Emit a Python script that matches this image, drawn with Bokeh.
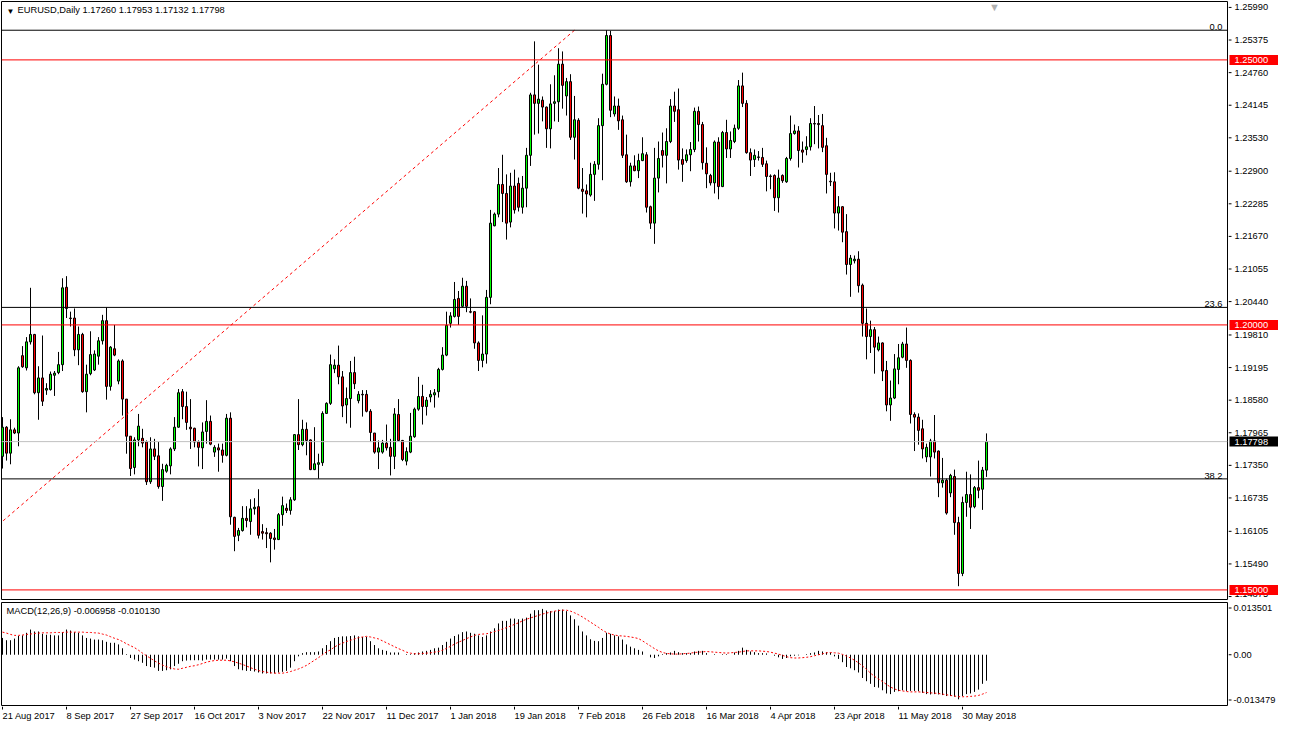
from bokeh.plotting import figure
from bokeh.models import Range1d, Span, Label, ColumnDataSource
from bokeh.layouts import column, row
from bokeh.embed import file_html
from bokeh.resources import INLINE
from bokeh.core.properties import value

# ---------------------------------------------------------------- data
symbol = "EURUSD,Daily"

open_ = [
    1.1752, 1.1807, 1.1758, 1.1802, 1.1796, 1.1942, 1.1919, 1.1968, 1.1982, 1.1872,
    1.1900, 1.1877, 1.1878, 1.1905, 1.1910, 1.1925, 1.2071, 1.2013, 1.2013, 1.1953,
    1.1982, 1.1874, 1.1908, 1.1915, 1.1941, 1.1970, 1.2008, 1.1884, 1.1955, 1.1894,
    1.1932, 1.1860, 1.1790, 1.1731, 1.1783, 1.1786, 1.1779, 1.1704, 1.1766, 1.1753,
    1.1695, 1.1724, 1.1734, 1.1766, 1.1807, 1.1874, 1.1846, 1.1807, 1.1805, 1.1779,
    1.1768, 1.1799, 1.1818, 1.1760, 1.1768, 1.1764, 1.1754, 1.1824, 1.1637, 1.1603,
    1.1612, 1.1635, 1.1629, 1.1653, 1.1657, 1.1610, 1.1608, 1.1607, 1.1598, 1.1595,
    1.1642, 1.1654, 1.1650, 1.1670, 1.1793, 1.1774, 1.1803, 1.1783, 1.1727, 1.1737,
    1.1740, 1.1833, 1.1852, 1.1917, 1.1924, 1.1902, 1.1849, 1.1861, 1.1910, 1.1857,
    1.1869, 1.1869, 1.1837, 1.1796, 1.1760, 1.1760, 1.1777, 1.1769, 1.1752, 1.1831,
    1.1782, 1.1743, 1.1760, 1.1789, 1.1841, 1.1865, 1.1846, 1.1864, 1.1868, 1.1874,
    1.1916, 1.1943, 1.2003, 1.2016, 1.2050, 1.2035, 1.2073, 1.2025, 1.2025, 1.1966,
    1.1933, 1.1945, 1.2052, 1.2187, 1.2209, 1.2265, 1.2248, 1.2194, 1.2262, 1.2267,
    1.2222, 1.2258, 1.2320, 1.2434, 1.2418, 1.2424, 1.2411, 1.2370, 1.2418, 1.2421,
    1.2492, 1.2432, 1.2459, 1.2354, 1.2386, 1.2256, 1.2253, 1.2245, 1.2284, 1.2303,
    1.2376, 1.2454, 1.2546, 1.2398, 1.2413, 1.2387, 1.2321, 1.2270, 1.2300, 1.2291,
    1.2310, 1.2321, 1.2223, 1.2192, 1.2277, 1.2329, 1.2320, 1.2346, 1.2413, 1.2406,
    1.2312, 1.2310, 1.2321, 1.2331, 1.2403, 1.2378, 1.2305, 1.2282, 1.2268, 1.2345,
    1.2261, 1.2363, 1.2332, 1.2346, 1.2371, 1.2451, 1.2418, 1.2325, 1.2312, 1.2317,
    1.2316, 1.2304, 1.2281, 1.2282, 1.2240, 1.2282, 1.2270, 1.2314, 1.2361, 1.2366,
    1.2330, 1.2331, 1.2336, 1.2380, 1.2380, 1.2376, 1.2338, 1.2271, 1.2270, 1.2211,
    1.2223, 1.2176, 1.2114, 1.2121, 1.2124, 1.2075, 1.2003, 1.1978, 1.1991, 1.1953,
    1.1966, 1.1914, 1.1849, 1.1862, 1.1916, 1.1939, 1.1964, 1.1933, 1.1831, 1.1826,
    1.1804, 1.1751, 1.1751, 1.1781, 1.1762, 1.1702, 1.1707, 1.1683, 1.1714, 1.1627,
    1.1531, 1.1665, 1.1680, 1.1657, 1.1693, 1.1690, 1.17260,
]
high_ = [
    1.1826, 1.1809, 1.1822, 1.1806, 1.1922, 1.1960, 1.1977, 1.2070, 1.1983, 1.1922,
    1.1980, 1.1890, 1.1912, 1.1913, 1.1949, 1.2088, 1.2092, 1.2025, 1.2031, 1.1997,
    1.1985, 1.1925, 1.1988, 1.1952, 1.1977, 1.2019, 1.2033, 1.1960, 1.2000, 1.1935,
    1.1935, 1.1860, 1.1790, 1.1788, 1.1832, 1.1804, 1.1782, 1.1788, 1.1785, 1.1779,
    1.1738, 1.1738, 1.1769, 1.1826, 1.1879, 1.1879, 1.1874, 1.1860, 1.1806, 1.1782,
    1.1816, 1.1858, 1.1829, 1.1773, 1.1776, 1.1776, 1.1832, 1.1835, 1.1638, 1.1617,
    1.1658, 1.1658, 1.1671, 1.1673, 1.1690, 1.1624, 1.1617, 1.1609, 1.1615, 1.1645,
    1.1676, 1.1663, 1.1675, 1.1794, 1.1860, 1.1821, 1.1816, 1.1784, 1.1807, 1.1757,
    1.1837, 1.1854, 1.1944, 1.1935, 1.1961, 1.1913, 1.1882, 1.1932, 1.1940, 1.1875,
    1.1877, 1.1877, 1.1841, 1.1796, 1.1782, 1.1783, 1.1812, 1.1785, 1.1843, 1.1860,
    1.1783, 1.1769, 1.1834, 1.1844, 1.1902, 1.1887, 1.1864, 1.1877, 1.1879, 1.1919,
    1.1958, 1.2025, 1.2024, 1.2081, 1.2064, 1.2089, 1.2083, 1.2050, 1.2026, 1.1969,
    1.2018, 1.2066, 1.2217, 1.2212, 1.2296, 1.2321, 1.2284, 1.2287, 1.2293, 1.2278,
    1.2281, 1.2334, 1.2438, 1.2535, 1.2491, 1.2431, 1.2412, 1.2454, 1.2471, 1.2522,
    1.2516, 1.2466, 1.2473, 1.2432, 1.2390, 1.2296, 1.2265, 1.2306, 1.2309, 1.2390,
    1.2474, 1.2556, 1.2555, 1.2431, 1.2427, 1.2395, 1.2359, 1.2306, 1.2320, 1.2323,
    1.2354, 1.2326, 1.2225, 1.2334, 1.2346, 1.2363, 1.2371, 1.2426, 1.2440, 1.2446,
    1.2333, 1.2331, 1.2345, 1.2410, 1.2412, 1.2383, 1.2335, 1.2285, 1.2348, 1.2354,
    1.2366, 1.2387, 1.2365, 1.2378, 1.2462, 1.2476, 1.2424, 1.2333, 1.2331, 1.2328,
    1.2334, 1.2310, 1.2284, 1.2284, 1.2293, 1.2284, 1.2317, 1.2395, 1.2378, 1.2375,
    1.2346, 1.2356, 1.2390, 1.2413, 1.2396, 1.2398, 1.2353, 1.2287, 1.2288, 1.2243,
    1.2224, 1.2209, 1.2132, 1.2131, 1.2139, 1.2078, 1.2031, 1.2008, 1.1996, 1.1978,
    1.1967, 1.1932, 1.1895, 1.1945, 1.1964, 1.1968, 1.1995, 1.1935, 1.1835, 1.1833,
    1.1821, 1.1776, 1.1785, 1.1830, 1.1763, 1.1749, 1.1710, 1.1719, 1.1727, 1.1638,
    1.1676, 1.1723, 1.1718, 1.1696, 1.1744, 1.1732, 1.17953,
]
low_ = [
    1.1729, 1.1744, 1.1737, 1.1794, 1.1771, 1.1919, 1.1914, 1.1963, 1.1869, 1.1821,
    1.1847, 1.1868, 1.1876, 1.1866, 1.1907, 1.1913, 1.2013, 1.1997, 1.1941, 1.1924,
    1.1872, 1.1835, 1.1905, 1.1913, 1.1925, 1.1963, 1.1859, 1.1876, 1.1941, 1.1888,
    1.1829, 1.1757, 1.1715, 1.1718, 1.1771, 1.1769, 1.1698, 1.1700, 1.1745, 1.1691,
    1.1668, 1.1721, 1.1718, 1.1762, 1.1806, 1.1822, 1.1802, 1.1766, 1.1769, 1.1733,
    1.1728, 1.1776, 1.1773, 1.1751, 1.1723, 1.1740, 1.1752, 1.1623, 1.1573, 1.1592,
    1.1610, 1.1618, 1.1604, 1.1642, 1.1597, 1.1595, 1.1579, 1.1552, 1.1576, 1.1594,
    1.1621, 1.1645, 1.1642, 1.1668, 1.1764, 1.1771, 1.1754, 1.1726, 1.1726, 1.1710,
    1.1734, 1.1832, 1.1849, 1.1909, 1.1888, 1.1826, 1.1814, 1.1806, 1.1879, 1.1852,
    1.1827, 1.1835, 1.1779, 1.1757, 1.1728, 1.1757, 1.1763, 1.1716, 1.1728, 1.1781,
    1.1743, 1.1735, 1.1758, 1.1787, 1.1838, 1.1812, 1.1829, 1.1854, 1.1844, 1.1863,
    1.1914, 1.1941, 1.1995, 1.2014, 1.2000, 1.2033, 1.2024, 1.2022, 1.1955, 1.1913,
    1.1920, 1.1927, 1.2039, 1.2186, 1.2203, 1.2194, 1.2161, 1.2184, 1.2210, 1.2214,
    1.2210, 1.2222, 1.2300, 1.2359, 1.2361, 1.2384, 1.2334, 1.2333, 1.2384, 1.2383,
    1.2408, 1.2395, 1.2349, 1.2312, 1.2256, 1.2210, 1.2203, 1.2242, 1.2234, 1.2293,
    1.2273, 1.2452, 1.2392, 1.2393, 1.2368, 1.2315, 1.2268, 1.2261, 1.2290, 1.2277,
    1.2309, 1.2212, 1.2181, 1.2153, 1.2250, 1.2297, 1.2267, 1.2343, 1.2383, 1.2293,
    1.2270, 1.2306, 1.2290, 1.2326, 1.2346, 1.2293, 1.2258, 1.2263, 1.2248, 1.2237,
    1.2260, 1.2315, 1.2315, 1.2343, 1.2368, 1.2411, 1.2323, 1.2281, 1.2298, 1.2310,
    1.2298, 1.2252, 1.2256, 1.2215, 1.2212, 1.2268, 1.2268, 1.2310, 1.2359, 1.2297,
    1.2306, 1.2320, 1.2329, 1.2341, 1.2333, 1.2326, 1.2248, 1.2262, 1.2182, 1.2178,
    1.2156, 1.2095, 1.2053, 1.2116, 1.2061, 1.1978, 1.1935, 1.1947, 1.1908, 1.1950,
    1.1894, 1.1837, 1.1819, 1.1860, 1.1888, 1.1937, 1.1919, 1.1814, 1.1762, 1.1774,
    1.1748, 1.1741, 1.1714, 1.1748, 1.1675, 1.1693, 1.1642, 1.1675, 1.1604, 1.1507,
    1.1526, 1.1638, 1.1615, 1.1654, 1.1673, 1.1651, 1.17132,
]
close_ = [
    1.1807, 1.1758, 1.1802, 1.1796, 1.1919, 1.1921, 1.1968, 1.1982, 1.1872, 1.1900,
    1.1856, 1.1880, 1.1907, 1.1909, 1.1925, 1.2070, 1.2031, 1.2012, 1.1953, 1.1982,
    1.1874, 1.1907, 1.1944, 1.1945, 1.1970, 1.2008, 1.1884, 1.1958, 1.1943, 1.1932,
    1.1860, 1.1790, 1.1729, 1.1783, 1.1809, 1.1777, 1.1704, 1.1766, 1.1752, 1.1695,
    1.1727, 1.1735, 1.1766, 1.1807, 1.1872, 1.1846, 1.1816, 1.1804, 1.1779, 1.1769,
    1.1798, 1.1818, 1.1775, 1.1769, 1.1764, 1.1754, 1.1824, 1.1638, 1.1601, 1.1612,
    1.1635, 1.1631, 1.1653, 1.1656, 1.1603, 1.1607, 1.1606, 1.1597, 1.1595, 1.1642,
    1.1659, 1.1650, 1.1670, 1.1793, 1.1774, 1.1803, 1.1782, 1.1727, 1.1738, 1.1740,
    1.1833, 1.1852, 1.1925, 1.1924, 1.1902, 1.1847, 1.1861, 1.1910, 1.1889, 1.1869,
    1.1868, 1.1837, 1.1797, 1.1760, 1.1768, 1.1777, 1.1768, 1.1752, 1.1832, 1.1782,
    1.1746, 1.1761, 1.1790, 1.1841, 1.1865, 1.1846, 1.1858, 1.1869, 1.1872, 1.1916,
    1.1943, 1.1999, 1.2017, 1.2048, 1.2016, 1.2073, 1.2035, 1.2024, 1.1966, 1.1933,
    1.1945, 1.2052, 1.2192, 1.2209, 1.2265, 1.2248, 1.2192, 1.2262, 1.2217, 1.2222,
    1.2258, 1.2320, 1.2434, 1.2418, 1.2426, 1.2411, 1.2370, 1.2417, 1.2421, 1.2492,
    1.2452, 1.2459, 1.2354, 1.2387, 1.2258, 1.2252, 1.2247, 1.2284, 1.2303, 1.2376,
    1.2454, 1.2546, 1.2405, 1.2413, 1.2385, 1.2320, 1.2270, 1.2300, 1.2291, 1.2310,
    1.2323, 1.2222, 1.2192, 1.2277, 1.2314, 1.2320, 1.2346, 1.2413, 1.2403, 1.2311,
    1.2303, 1.2321, 1.2331, 1.2403, 1.2378, 1.2306, 1.2285, 1.2268, 1.2345, 1.2261,
    1.2363, 1.2332, 1.2348, 1.2371, 1.2451, 1.2418, 1.2325, 1.2311, 1.2320, 1.2316,
    1.2303, 1.2280, 1.2280, 1.2240, 1.2277, 1.2272, 1.2314, 1.2361, 1.2366, 1.2329,
    1.2326, 1.2336, 1.2380, 1.2379, 1.2378, 1.2335, 1.2284, 1.2270, 1.2211, 1.2223,
    1.2175, 1.2114, 1.2126, 1.2124, 1.2074, 1.2003, 1.1978, 1.1991, 1.1958, 1.1966,
    1.1913, 1.1849, 1.1862, 1.1917, 1.1938, 1.1964, 1.1933, 1.1831, 1.1826, 1.1801,
    1.1766, 1.1769, 1.1781, 1.1760, 1.1702, 1.1707, 1.1645, 1.1716, 1.1627, 1.1531,
    1.1665, 1.1680, 1.1656, 1.1693, 1.1688, 1.1726, 1.17798,
]

macd_main = [
    0.00450, 0.00389, 0.00389, 0.00433, 0.00502, 0.00519, 0.00588, 0.00675, 0.00623, 0.00623,
    0.00562, 0.00536, 0.00536, 0.00519, 0.00519, 0.00606, 0.00675, 0.00649, 0.00606, 0.00588,
    0.00519, 0.00450, 0.00433, 0.00407, 0.00407, 0.00389, 0.00346, 0.00320, 0.00320, 0.00277,
    0.00173, 0.00017, -0.00087, -0.00130, -0.00173, -0.00216, -0.00303, -0.00329, -0.00346, -0.00433,
    -0.00433, -0.00415, -0.00389, -0.00303, -0.00242, -0.00173, -0.00156, -0.00147, -0.00147, -0.00147,
    -0.00156, -0.00130, -0.00130, -0.00130, -0.00130, -0.00130, -0.00104, -0.00173, -0.00303, -0.00389,
    -0.00415, -0.00433, -0.00433, -0.00450, -0.00476, -0.00502, -0.00502, -0.00502, -0.00502, -0.00476,
    -0.00458, -0.00433, -0.00346, -0.00173, -0.00043, 0.00043, 0.00069, 0.00069, 0.00069, 0.00087,
    0.00173, 0.00260, 0.00363, 0.00450, 0.00476, 0.00493, 0.00493, 0.00502, 0.00519, 0.00493,
    0.00476, 0.00476, 0.00363, 0.00260, 0.00173, 0.00130, 0.00104, 0.00061, 0.00061, 0.00061,
    0.00000, 0.00017, 0.00017, 0.00043, 0.00061, 0.00087, 0.00104, 0.00130, 0.00173, 0.00190,
    0.00260, 0.00346, 0.00433, 0.00502, 0.00545, 0.00606, 0.00623, 0.00588, 0.00562, 0.00519,
    0.00476, 0.00519, 0.00623, 0.00709, 0.00839, 0.00908, 0.00908, 0.00969, 0.00969, 0.00952,
    0.00969, 0.00995, 0.01099, 0.01194, 0.01194, 0.01228, 0.01185, 0.01168, 0.01168, 0.01211,
    0.01211, 0.01168, 0.01055, 0.00952, 0.00779, 0.00623, 0.00519, 0.00415, 0.00372, 0.00363,
    0.00450, 0.00588, 0.00562, 0.00519, 0.00493, 0.00407, 0.00277, 0.00216, 0.00173, 0.00130,
    0.00087, 0.00000, -0.00069, -0.00087, -0.00043, 0.00017, 0.00043, 0.00061, 0.00104, 0.00069,
    0.00043, 0.00043, 0.00043, 0.00087, 0.00104, 0.00104, 0.00043, 0.00000, 0.00017, 0.00000,
    0.00017, 0.00017, 0.00000, 0.00061, 0.00104, 0.00190, 0.00130, 0.00087, 0.00069, 0.00043,
    0.00043, 0.00035, 0.00000, -0.00026, -0.00069, -0.00112, -0.00087, -0.00043, -0.00026, -0.00017,
    0.00000, 0.00017, 0.00043, 0.00061, 0.00104, 0.00087, 0.00069, 0.00061, -0.00043, -0.00112,
    -0.00199, -0.00329, -0.00363, -0.00415, -0.00476, -0.00623, -0.00709, -0.00779, -0.00865, -0.00882,
    -0.00952, -0.01038, -0.01055, -0.00995, -0.00977, -0.00952, -0.00969, -0.00969, -0.00969, -0.00977,
    -0.01021, -0.01055, -0.01064, -0.01055, -0.01064, -0.01081, -0.01107, -0.01107, -0.01125, -0.01194,
    -0.01107, -0.01055, -0.01038, -0.00995, -0.00934, -0.00779, -0.006958,
]
macd_signal = [
    0.00606, 0.00580, 0.00545, 0.00519, 0.00519, 0.00528, 0.00545, 0.00554, 0.00571, 0.00580,
    0.00588, 0.00588, 0.00588, 0.00597, 0.00597, 0.00597, 0.00606, 0.00606, 0.00606, 0.00606,
    0.00606, 0.00597, 0.00597, 0.00588, 0.00580, 0.00554, 0.00528, 0.00484, 0.00441, 0.00407,
    0.00355, 0.00294, 0.00242, 0.00190, 0.00121, 0.00043, -0.00026, -0.00095, -0.00164, -0.00225,
    -0.00277, -0.00320, -0.00355, -0.00381, -0.00389, -0.00363, -0.00337, -0.00311, -0.00294, -0.00268,
    -0.00234, -0.00199, -0.00173, -0.00156, -0.00147, -0.00147, -0.00147, -0.00164, -0.00190, -0.00225,
    -0.00260, -0.00303, -0.00346, -0.00389, -0.00424, -0.00450, -0.00467, -0.00484, -0.00493, -0.00493,
    -0.00493, -0.00476, -0.00450, -0.00415, -0.00381, -0.00337, -0.00285, -0.00216, -0.00147, -0.00078,
    0.00000, 0.00078, 0.00130, 0.00208, 0.00268, 0.00311, 0.00355, 0.00389, 0.00424, 0.00458,
    0.00476, 0.00493, 0.00476, 0.00450, 0.00424, 0.00372, 0.00320, 0.00268, 0.00216, 0.00164,
    0.00121, 0.00069, 0.00043, 0.00026, 0.00026, 0.00035, 0.00043, 0.00052, 0.00069, 0.00087,
    0.00121, 0.00173, 0.00225, 0.00285, 0.00337, 0.00381, 0.00433, 0.00476, 0.00519, 0.00545,
    0.00554, 0.00562, 0.00588, 0.00623, 0.00649, 0.00692, 0.00727, 0.00770, 0.00813, 0.00856,
    0.00908, 0.00952, 0.00986, 0.01021, 0.01055, 0.01090, 0.01116, 0.01142, 0.01168, 0.01185,
    0.01194, 0.01194, 0.01168, 0.01125, 0.01073, 0.01012, 0.00943, 0.00874, 0.00804, 0.00735,
    0.00657, 0.00597, 0.00554, 0.00528, 0.00510, 0.00502, 0.00493, 0.00476, 0.00458, 0.00433,
    0.00372, 0.00303, 0.00234, 0.00164, 0.00104, 0.00061, 0.00035, 0.00026, 0.00017, 0.00017,
    0.00026, 0.00035, 0.00043, 0.00061, 0.00069, 0.00078, 0.00087, 0.00078, 0.00069, 0.00061,
    0.00052, 0.00043, 0.00052, 0.00061, 0.00069, 0.00087, 0.00104, 0.00104, 0.00104, 0.00104,
    0.00095, 0.00087, 0.00069, 0.00043, 0.00017, -0.00017, -0.00052, -0.00078, -0.00087, -0.00087,
    -0.00078, -0.00069, -0.00052, -0.00026, 0.00000, 0.00026, 0.00052, 0.00061, 0.00052, 0.00043,
    0.00009, -0.00035, -0.00087, -0.00147, -0.00216, -0.00303, -0.00389, -0.00493, -0.00580, -0.00649,
    -0.00718, -0.00796, -0.00865, -0.00917, -0.00952, -0.00969, -0.00986, -0.00995, -0.00995, -0.00995,
    -0.01003, -0.01012, -0.01021, -0.01029, -0.01038, -0.01055, -0.01073, -0.01090, -0.01107, -0.01125,
    -0.01125, -0.01125, -0.01116, -0.01107, -0.01090, -0.01055, -0.010130,
]

date_labels = ["21 Aug 2017", "8 Sep 2017", "27 Sep 2017", "16 Oct 2017", "3 Nov 2017",
               "22 Nov 2017", "11 Dec 2017", "1 Jan 2018", "19 Jan 2018", "7 Feb 2018",
               "26 Feb 2018", "16 Mar 2018", "4 Apr 2018", "23 Apr 2018", "11 May 2018",
               "30 May 2018"]
date_bar_index = [0, 16, 32, 48, 64, 80, 96, 112, 128, 144, 160, 176, 192, 208, 224, 240]

price_ticks = [1.25990, 1.25375, 1.24760, 1.24145, 1.23530, 1.22900, 1.22285, 1.21670,
               1.21055, 1.20440, 1.19810, 1.19195, 1.18580, 1.17965, 1.17350, 1.16735,
               1.16105, 1.15490, 1.14875]
macd_ticks = [0.013501, 0.0, -0.013479]
macd_tick_text = ["0.013501", "0.00", "-0.013479"]
macd_params = "MACD(12,26,9)"

round_levels = [1.25, 1.20, 1.15]
fib_low, fib_high = 1.0340, 1.2556
fib_low_index, fib_high_index = -199, 143
fib_ratios = [0.0, 23.6, 38.2]

price_lo, price_hi = 1.14819, 1.26102
macd_lo, macd_hi = -0.0136, 0.0140

# ---------------------------------------------------------------- style / layout
FONT = "Liberation Sans"
FS = "9.3px"
BULL = "#00FF00"
BEAR = "#FF0000"
RED = "#FF0000"
GREY = "#C0C0C0"

W = 1278          # whole page content width
AXW = 50          # width of the price-scale strip
BAR_PX = 4        # pixels per bar (MT4 zoom level)
CW = W - AXW      # chart figures width
FRAME_W = CW - 2  # 1px border left and right
x_start = -0.25
xr = Range1d(x_start, x_start + FRAME_W / BAR_PX)

MAIN_H, MACD_H, DATE_H = 600, 106, 16
MAIN_FH = MAIN_H - 2
MACD_FH = MACD_H - 3
HALF_TXT = 5.5    # half height of a scale label, px

n = len(close_)
idx = list(range(n))
src = ColumnDataSource(dict(
    x=idx, o=open_, h=high_, l=low_, c=close_,
    top=[max(o, c) for o, c in zip(open_, close_)],
    bot=[min(o, c) for o, c in zip(open_, close_)],
    fill=[BULL if c > o else BEAR for o, c in zip(open_, close_)],
))


def make_fig(width, height, x_range, y_range, top, bottom, left, right):
    f = figure(width=width, height=height, x_range=x_range, y_range=y_range,
               output_backend="svg", toolbar_location=None,
               x_axis_location=None, y_axis_location=None,
               min_border_left=left, min_border_right=right,
               min_border_top=top, min_border_bottom=bottom,
               background_fill_color="white", border_fill_color="white")
    f.grid.visible = False
    return f


def txt(fig, x, y, texts, color="black", align="left", baseline="middle", x_offset=0):
    fig.text(x=x, y=y, text=texts, x_offset=x_offset,
             text_align=align, text_baseline=baseline,
             text_font=value(FONT), text_font_size=FS, text_color=color)


def clamp_labels(vals, lo, hi, frame_px):
    h = HALF_TXT * (hi - lo) / frame_px
    return [min(max(v, lo + h), hi - h) for v in vals]


# ---------------------------------------------------------------- main price panel
yr_main = Range1d(price_lo, price_hi)
p = make_fig(CW, MAIN_H, xr, yr_main, 1, 1, 1, 1)
p.outline_line_color = "black"
p.outline_line_width = 1

p.segment(x0="x", y0="h", x1="x", y1="l", source=src, line_color="black", line_width=1)
p.vbar(x="x", width=0.5, top="top", bottom="bot", source=src,
       fill_color="fill", line_color="black", line_width=1)

# fibonacci retracement
p.line([fib_low_index, fib_high_index], [fib_low, fib_high],
       line_color=RED, line_width=1, line_dash="3 3")
fib_levels = [fib_high - r / 100.0 * (fib_high - fib_low) for r in fib_ratios]
for r, lvl in zip(fib_ratios, fib_levels):
    p.add_layout(Span(location=lvl, dimension="width", line_color="black", line_width=1))
    p.add_layout(Label(x=xr.end, y=lvl, x_offset=-5, y_offset=0, text=f"{r:.1f}",
                       text_align="right", text_baseline="bottom",
                       text_font=FONT, text_font_size=FS, text_color="black"))

for lvl in round_levels:
    p.add_layout(Span(location=lvl, dimension="width", line_color=RED, line_width=1))

bid = close_[-1]
p.add_layout(Span(location=bid, dimension="width", line_color=GREY, line_width=1))

# header
p.add_layout(Label(x=xr.start, y=price_hi, x_offset=5, y_offset=-5, text="\u25bc",
                   text_align="left", text_baseline="top",
                   text_font=FONT, text_font_size="8px", text_color="black"))
header = f"{symbol}  {open_[-1]:.5f} {high_[-1]:.5f} {low_[-1]:.5f} {close_[-1]:.5f}"
p.add_layout(Label(x=xr.start, y=price_hi, x_offset=16, y_offset=-3, text=header,
                   text_align="left", text_baseline="top",
                   text_font=FONT, text_font_size=FS, text_color="black"))
# chart-shift marker
p.add_layout(Label(x=n + 1, y=price_hi, y_offset=1, text="\u25bc",
                   text_align="center", text_baseline="top",
                   text_font=FONT, text_font_size="11px", text_color="#B0B0B0"))

# ---------------------------------------------------------------- price scale strip
axr = Range1d(0, AXW)
pa = make_fig(AXW, MAIN_H, axr, yr_main, 1, 1, 0, 0)
pa.outline_line_color = None
price_label_y = clamp_labels(price_ticks, price_lo, price_hi, MAIN_FH)
pa.segment(x0=[0] * len(price_ticks), y0=price_ticks, x1=[3] * len(price_ticks), y1=price_ticks,
           line_color="black", line_width=1)
txt(pa, [6] * len(price_ticks), price_label_y, [f"{t:.5f}" for t in price_ticks])
box_levels = round_levels + [bid]
box_colors = [RED] * len(round_levels) + ["black"]
pa.rect(x=[(1 + AXW) / 2] * len(box_levels), y=box_levels, width=AXW - 1, height=10,
        height_units="screen", fill_color=box_colors, line_color=None)
txt(pa, [6] * len(box_levels), box_levels, [f"{v:.5f}" for v in box_levels], color="white")

# ---------------------------------------------------------------- MACD panel
yr_macd = Range1d(macd_lo, macd_hi)
m = make_fig(CW, MACD_H, xr, yr_macd, 2, 1, 1, 1)
m.outline_line_color = "black"
m.outline_line_width = 1
m.segment(x0=idx, y0=[0.0] * n, x1=idx, y1=macd_main, line_color="black", line_width=1)
m.line(idx, macd_signal, line_color=RED, line_width=1, line_dash="2 2")
macd_header = f"{macd_params} {macd_main[-1]:.6f} {macd_signal[-1]:.6f}"
m.add_layout(Label(x=xr.start, y=macd_hi, x_offset=5, y_offset=-3, text=macd_header,
                   text_align="left", text_baseline="top",
                   text_font=FONT, text_font_size=FS, text_color="black"))

# MACD scale strip: labels kept inside the window like MT4 does
ma = make_fig(AXW, MACD_H, axr, yr_macd, 2, 1, 0, 0)
ma.outline_line_color = None
macd_label_y = clamp_labels(macd_ticks, macd_lo, macd_hi, MACD_FH)
ma.segment(x0=[0] * 3, y0=macd_label_y, x1=[3] * 3, y1=macd_label_y,
           line_color="black", line_width=1)
txt(ma, [5] * 3, macd_label_y, macd_tick_text)

# ---------------------------------------------------------------- date strip
d = make_fig(CW, DATE_H, xr, Range1d(0, DATE_H), 0, 0, 1, 1)
d.outline_line_color = None
k = len(date_bar_index)
d.segment(x0=date_bar_index, y0=[DATE_H] * k, x1=date_bar_index, y1=[DATE_H - 3] * k,
          line_color="black", line_width=1)
txt(d, date_bar_index, [DATE_H - 4] * k, date_labels, baseline="top", x_offset=0)

layout = row(column(p, m, d, spacing=0), column(pa, ma, spacing=0), spacing=0)
open("out.html", "w").write(file_html(layout, INLINE))
